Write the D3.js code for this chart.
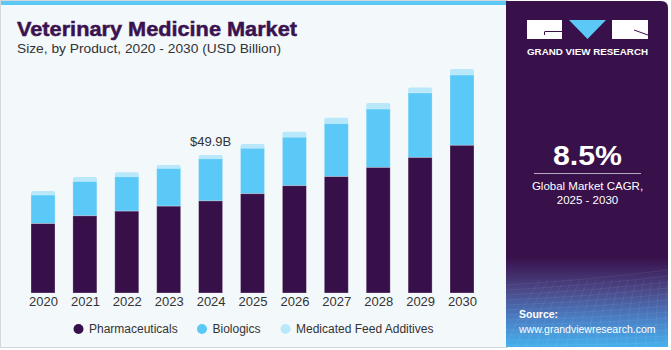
<!DOCTYPE html>
<html><head><meta charset="utf-8">
<script src="https://cdn.jsdelivr.net/npm/d3@7"></script>
<style>html,body{margin:0;padding:0;background:#fff;}svg{display:block;font-family:"Liberation Sans",Arial,sans-serif;}</style>
</head><body>
<svg id="c" width="671" height="350"></svg>
<script>
const years = ["2020","2021","2022","2023","2024","2025","2026","2027","2028","2029","2030"];
const pharmaceuticals = [25.1, 27.9, 29.6, 31.4, 33.3, 35.9, 38.8, 42.1, 45.4, 49.0, 53.4];
const biologics = [10.3, 12.4, 12.4, 13.6, 15.2, 16.4, 17.5, 19.1, 21.1, 23.3, 25.4];
const feedAdditives = [1.5, 1.6, 1.7, 1.3, 1.4, 1.6, 2.0, 2.2, 2.2, 2.0, 2.2];
const seriesNames = ["Pharmaceuticals", "Biologics", "Medicated Feed Additives"];
const colors = ["#37104a", "#5bc9f7", "#b9e8fa"];
const annotation = {year: "2024", label: "$49.9B"};

const svg = d3.select("#c");
// background
svg.append("rect").attr("x",0).attr("y",0).attr("width",671).attr("height",350).attr("fill","#ffffff");
svg.append("rect").attr("x",0).attr("y",0).attr("width",508).attr("height",348).attr("fill","#d4d8db");
svg.append("rect").attr("x",1).attr("y",1).attr("width",507).attr("height",346).attr("fill","#f3f8fb");
svg.append("rect").attr("x",1).attr("y",1).attr("width",507).attr("height",4).attr("fill","#5bc8f5");

// right panel
const defs = svg.append("defs");
const g1 = defs.append("linearGradient").attr("id","srcg").attr("x1",0).attr("y1",0).attr("x2",0).attr("y2",1);
g1.append("stop").attr("offset","0").attr("stop-color","#38104a");
g1.append("stop").attr("offset","0.74").attr("stop-color","#38104a");
g1.append("stop").attr("offset","0.83").attr("stop-color","#4a4484");
g1.append("stop").attr("offset","0.92").attr("stop-color","#4a80c6");
g1.append("stop").attr("offset","1").attr("stop-color","#45b0ec");
svg.append("path")
  .attr("d","M506,1 H661 Q668,1 668,8 V347 H506 Z")
  .attr("fill","url(#srcg)");
// faint grid texture in source area
const tex = svg.append("g").attr("stroke","rgba(255,255,255,0.09)").attr("stroke-width",0.7).attr("fill","none");
for (let i = 0; i < 14; i++) {
  tex.append("path").attr("d",`M506,${285+i*5} Q590,${280+i*5.5} 668,${270+i*6}`);
}
for (let i = 0; i < 18; i++) {
  tex.append("path").attr("d",`M${506+i*10},347 Q${520+i*9},310 ${540+i*8},280`);
}

// logo
const logo = svg.append("g");
logo.append("rect").attr("x",527).attr("y",20).attr("width",35).attr("height",19).attr("fill","#fff");
logo.append("path").attr("d","M545,31.5 H562 M544.5,31.5 V35").attr("stroke","#38104a").attr("stroke-width",1).attr("fill","none");
logo.append("path").attr("d","M569,20 H606 L587.5,39 Z").attr("fill","#5bc8f5");
logo.append("rect").attr("x",612).attr("y",20).attr("width",36).attr("height",19).attr("fill","#fff");
logo.append("path").attr("d","M634,30 L648,35").attr("stroke","#38104a").attr("stroke-width",1).attr("fill","none");
logo.append("text").attr("x",527).attr("y",54.5).attr("textLength",121).attr("lengthAdjust","spacingAndGlyphs")
  .attr("fill","#fff").attr("font-size",9.5).attr("font-weight","bold").text("GRAND VIEW RESEARCH");

// CAGR
svg.append("text").attr("x",587.5).attr("y",165).attr("text-anchor","middle").attr("fill","#fff")
  .attr("font-size",28).attr("font-weight","bold").attr("textLength",69).attr("lengthAdjust","spacingAndGlyphs").text("8.5%");
svg.append("line").attr("x1",534).attr("x2",641).attr("y1",173.5).attr("y2",173.5).attr("stroke","#b8a8c4").attr("stroke-width",1);
svg.append("text").attr("x",587.5).attr("y",190).attr("text-anchor","middle").attr("fill","#fff")
  .attr("font-size",11.5).text("Global Market CAGR,");
svg.append("text").attr("x",587.5).attr("y",204).attr("text-anchor","middle").attr("fill","#fff")
  .attr("font-size",11.5).text("2025 - 2030");
svg.append("text").attr("x",519).attr("y",318).attr("fill","#fff").attr("font-size",10.5).attr("font-weight","bold").text("Source:");
svg.append("text").attr("x",519).attr("y",332.5).attr("fill","#fff").attr("font-size",10.5).text("www.grandviewresearch.com");

// titles
svg.append("text").attr("x",17).attr("y",35.5).attr("fill","#3b1250").attr("font-size",21).attr("font-weight","900")
  .attr("stroke","#3b1250").attr("stroke-width",0.5)
  .attr("textLength",280).attr("lengthAdjust","spacingAndGlyphs").text("Veterinary Medicine Market");
svg.append("text").attr("x",17).attr("y",53).attr("fill","#333").attr("font-size",13)
  .attr("textLength",264).attr("lengthAdjust","spacingAndGlyphs")
  .text("Size, by Product, 2020 - 2030 (USD Billion)");

// scales
const x = d3.scalePoint().domain(years).range([43, 462]);
const y = d3.scaleLinear().domain([0, 60]).range([293, 293 - 60*2.766]);
const bw = 24;

const data = years.map((yr,i)=>({year:yr, p:pharmaceuticals[i], b:biologics[i], f:feedAdditives[i]}));
const stack = d3.stack().keys(["p","b","f"])(data);

const bars = svg.append("g");
// feed additives (rounded top, extends under biologics)
bars.selectAll("rect.f").data(stack[2]).join("rect")
  .attr("x", d=>x(d.data.year)-bw/2).attr("width", bw)
  .attr("y", d=>y(d[1])).attr("height", d=>y(d[0])-y(d[1])+3)
  .attr("rx", 2).attr("fill", colors[2]);
bars.selectAll("rect.b").data(stack[1]).join("rect")
  .attr("x", d=>x(d.data.year)-bw/2).attr("width", bw)
  .attr("y", d=>y(d[1])).attr("height", d=>y(d[0])-y(d[1]))
  .attr("fill", colors[1]).attr("stroke","rgba(255,255,255,0.3)").attr("stroke-width",0.8);
bars.selectAll("rect.p").data(stack[0]).join("rect")
  .attr("x", d=>x(d.data.year)-bw/2).attr("width", bw)
  .attr("y", d=>y(d[1])).attr("height", d=>y(d[0])-y(d[1]))
  .attr("fill", colors[0]).attr("stroke","rgba(255,255,255,0.35)").attr("stroke-width",0.8);

// x axis labels
const xAxis = d3.axisBottom(x).tickSize(0).tickPadding(0);
const ax = svg.append("g").attr("transform","translate(0,297)").call(xAxis);
ax.select(".domain").remove();
ax.selectAll("text").attr("font-size",13).attr("fill","#333").attr("dy","0.71em")
  .attr("font-family","'Liberation Sans',Arial,sans-serif");

// annotation
const ai = years.indexOf(annotation.year);
const tot = pharmaceuticals[ai]+biologics[ai]+feedAdditives[ai];
svg.append("text").attr("x", x(annotation.year)).attr("y", y(tot)-9).attr("text-anchor","middle")
  .attr("fill","#333").attr("font-size",13).text(annotation.label);

// legend
const legX = [78.5, 202, 285.5];
const lg = svg.append("g");
seriesNames.forEach((n,i)=>{
  lg.append("circle").attr("cx",legX[i]).attr("cy",329).attr("r",5).attr("fill",colors[i]);
  lg.append("text").attr("x",legX[i]+10.5).attr("y",333).attr("fill","#333").attr("font-size",12).text(n);
});
</script>
</body></html>
